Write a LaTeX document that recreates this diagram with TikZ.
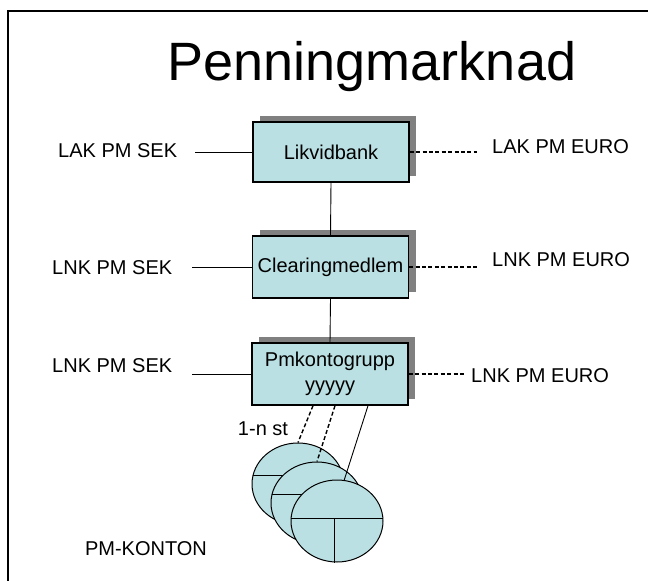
\documentclass[tikz,border=0pt]{standalone}
\usepackage{fontspec}
\setmainfont{Liberation Sans}
\usetikzlibrary{shapes.geometric,shadows}
\definecolor{boxfill}{HTML}{BAE0E3}
\definecolor{shadowgray}{HTML}{808080}
\begin{document}
\begin{tikzpicture}[x=1pt,y=-1pt,
  acct/.style={draw=black, line width=1.4pt, fill=boxfill, minimum width=156pt,
    inner sep=0pt, align=center, font=\fontsize{20}{27}\selectfont,
    general shadow={fill=shadowgray, shadow xshift=7pt, shadow yshift=6.5pt}},
  lbl/.style={inner sep=0pt, font=\fontsize{20}{24}\selectfont},
  link/.style={draw=black, line width=0.9pt},
  dlink/.style={draw=black, line width=1.4pt, dash pattern=on 4pt off 2.4pt},
  konto/.style={ellipse, draw=black, line width=1pt, fill=boxfill,
    minimum width=92pt, minimum height=82pt, inner sep=0pt}]
\useasboundingbox (0,0) rectangle (648,581);
% outer frame
\draw[line width=1.8pt] (8,581) -- (8,11) -- (648,11);
% title
\node[inner sep=0pt, anchor=base, font=\fontsize{54}{60}\selectfont] (title) at (372,80) {Penningmarknad};

% account hierarchy
\node[acct, minimum height=60pt] (lb) at (331,152) {Likvidbank};
\node[acct, minimum height=62pt] (cm) at (330.5,267) {Clearingmedlem};
\node[acct, minimum height=62pt] (pg) at (330,374) {Pmkontogrupp\\[-2pt]yyyyy};
\draw[link] (lb.south) -- (cm.north);
\draw[link] (cm.south) -- (pg.north);

% SEK accounts
\node[lbl, anchor=west] (sek1) at (58,151) {LAK PM SEK};
\node[lbl, anchor=west] (sek2) at (52,268) {LNK PM SEK};
\node[lbl, anchor=west] (sek3) at (52,366) {LNK PM SEK};
\draw[link, shorten <=18pt] (sek1.east |- lb.west) -- (lb.west);
\draw[link, shorten <=20pt] (sek2.east |- cm.west) -- (cm.west);
\draw[link, shorten <=20pt] (sek3.east |- pg.west) -- (pg.west);

% EURO accounts
\node[lbl, anchor=west] (eur1) at (492,147) {LAK PM EURO};
\node[lbl, anchor=west] (eur2) at (492,260) {LNK PM EURO};
\node[lbl, anchor=west] (eur3) at (471,376) {LNK PM EURO};
\draw[dlink, shorten >=15pt] (lb.east) -- (eur1.west |- lb.east);
\draw[dlink, shorten >=15pt] (cm.east) -- (eur2.west |- cm.east);
\draw[dlink, shorten >=6pt] (pg.east) -- (eur3.west |- pg.east);

% PM accounts
\node[konto] (k1) at (298,484) {};
\begin{scope}
  \clip (k1.center) ellipse [x radius=46, y radius=41];
  \draw[line width=1pt] (240,475) -- (360,475);
  \draw[line width=1pt] (296,475) -- (296,540);
\end{scope}
\node[konto] (k2) at (317,503) {};
\begin{scope}
  \clip (k2.center) ellipse [x radius=46, y radius=41];
  \draw[line width=1pt] (260,494) -- (380,494);
  \draw[line width=1pt] (315,494) -- (315,560);
\end{scope}
\node[konto] (k3) at (337,521) {};
\begin{scope}
  \clip (k3.center) ellipse [x radius=46, y radius=41];
  \draw[line width=1pt] (280,518) -- (400,518);
\end{scope}
\draw[line width=1pt] (334,518) -- (334,563);

\draw[dlink] ([xshift=-17pt]pg.south) -- (k1.north);
\draw[dlink] ([xshift=5pt]pg.south) -- (k2.north);
\draw[link] ([xshift=38pt]pg.south) -- (k3.80);

\node[lbl] (cnt) at (263,429) {1-n st};
\node[lbl] (pmk) at (146,549) {PM-KONTON};
\end{tikzpicture}
\end{document}
